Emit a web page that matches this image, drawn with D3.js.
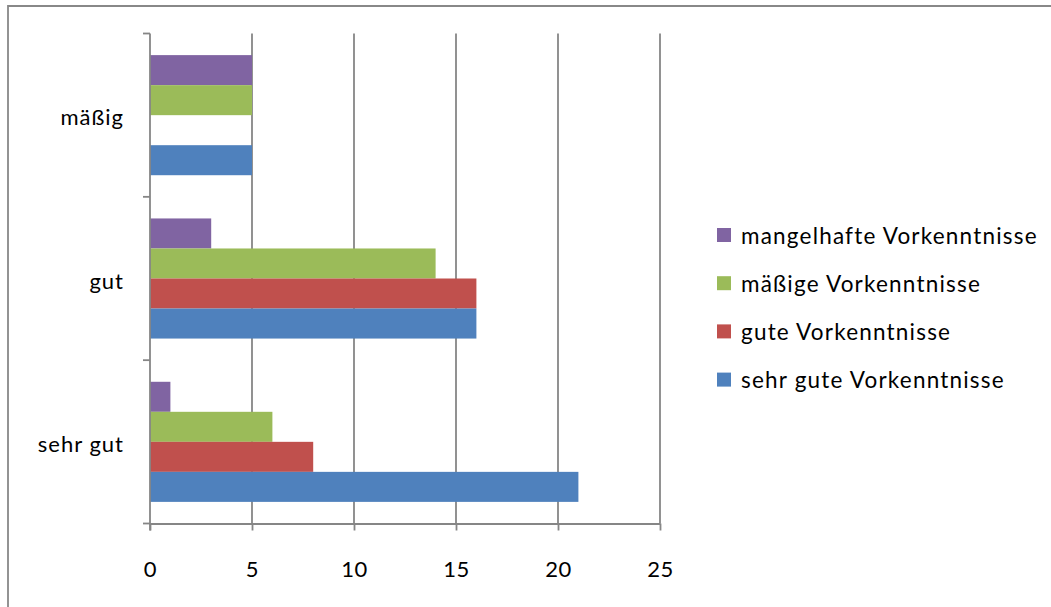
<!DOCTYPE html>
<html>
<head>
<meta charset="utf-8">
<script src="https://cdnjs.cloudflare.com/ajax/libs/d3/7.8.5/d3.min.js"></script>
<style>
  body { margin: 0; background: #fff; }
  text { font-family: Lato, "Open Sans", sans-serif; fill: #000; }
</style>
</head>
<body>
<div id="chart"></div>
<script>
// categories top to bottom
var categories = ["mäßig", "gut", "sehr gut"];
// series, in the order they stack inside a group (top to bottom)
var seriesNames = ["mangelhafte Vorkenntnisse", "mäßige Vorkenntnisse", "gute Vorkenntnisse", "sehr gute Vorkenntnisse"];
var seriesColors = ["#8064A2", "#9BBB59", "#C0504D", "#4F81BD"];
// values per series, same order as categories
var mangelhafte = [5, 3, 1];
var maessige = [5, 14, 6];
var gute = [0, 16, 8];
var sehrGute = [5, 16, 21];
var xTicks = [0, 5, 10, 15, 20, 25];

var seriesValues = [mangelhafte, maessige, gute, sehrGute];

var svgWidth = 1051, svgHeight = 607;
var svg = d3.select("#chart").append("svg")
  .attr("width", svgWidth)
  .attr("height", svgHeight);

// outer chart border (cut off at right / bottom like the screenshot)
svg.append("path")
  .attr("d", "M8,612 L8,6 L1060,6")
  .attr("fill", "none")
  .attr("stroke", "#888")
  .attr("stroke-width", 1.8);

var x = d3.scaleLinear().domain([0, 25]).range([150, 660]);
var y = d3.scaleBand().domain(categories).range([33.5, 523.5]).padding(0);
var yInner = d3.scaleBand().domain(seriesNames).range([0, y.bandwidth()])
  .paddingInner(0).paddingOuter(0.72);

var gridColor = "#868686";

// vertical gridlines
svg.append("g").selectAll("line")
  .data(xTicks.filter(d => d > 0))
  .enter().append("line")
  .attr("x1", d => x(d)).attr("x2", d => x(d))
  .attr("y1", y.range()[0]).attr("y2", y.range()[1])
  .attr("stroke", gridColor)
  .attr("stroke-width", 1.8);

// bars
var rows = [];
seriesNames.forEach(function(s, i) {
  categories.forEach(function(c, j) {
    rows.push({ series: s, cat: c, value: seriesValues[i][j], color: seriesColors[i] });
  });
});

svg.append("g").selectAll("rect")
  .data(rows)
  .enter().append("rect")
  .attr("x", x(0))
  .attr("y", d => y(d.cat) + yInner(d.series))
  .attr("width", d => x(d.value) - x(0))
  .attr("height", yInner.bandwidth())
  .attr("fill", d => d.color);

// x axis
var xAxis = svg.append("g")
  .attr("transform", "translate(0," + y.range()[1] + ")")
  .call(d3.axisBottom(x).tickValues(xTicks).tickSize(7).tickSizeOuter(0).tickPadding(31));
xAxis.select(".domain").attr("stroke", gridColor).attr("stroke-width", 1.8);
xAxis.selectAll(".tick line").attr("stroke", gridColor).attr("stroke-width", 1.8);
xAxis.selectAll(".tick text")
  .style("font-size", "22px").style("font-family", "Lato, sans-serif")
  .style("letter-spacing", "0.6px").attr("fill", "#000");

// y axis: line + ticks at band boundaries
var bounds = categories.map(d => y(d)).concat([y.range()[1]]);
svg.append("line")
  .attr("x1", x(0)).attr("x2", x(0))
  .attr("y1", y.range()[0]).attr("y2", y.range()[1] + 7)
  .attr("stroke", gridColor).attr("stroke-width", 1.8);
svg.append("g").selectAll("line")
  .data(bounds)
  .enter().append("line")
  .attr("x1", x(0) - 7).attr("x2", x(0))
  .attr("y1", d => d).attr("y2", d => d)
  .attr("stroke", gridColor).attr("stroke-width", 1.8);

var yAxis = svg.append("g")
  .attr("transform", "translate(" + x(0) + ",3)")
  .call(d3.axisLeft(y).tickSize(0).tickPadding(26));
yAxis.select(".domain").remove();
yAxis.selectAll(".tick text")
  .style("font-size", "22px").style("font-family", "Lato, sans-serif")
  .style("letter-spacing", "1px").attr("fill", "#000");

// legend
var legend = svg.append("g").attr("transform", "translate(717,228)");
var item = legend.selectAll("g")
  .data(seriesNames)
  .enter().append("g")
  .attr("transform", (d, i) => "translate(0," + (i * 48.2) + ")");
item.append("rect")
  .attr("width", 14).attr("height", 14)
  .attr("fill", (d, i) => seriesColors[i]);
item.append("text")
  .attr("x", 24)
  .attr("y", 8)
  .attr("dy", "0.35em")
  .style("font-size", "22.5px")
  .style("letter-spacing", "1.2px")
  .text(d => d);
</script>
</body>
</html>
